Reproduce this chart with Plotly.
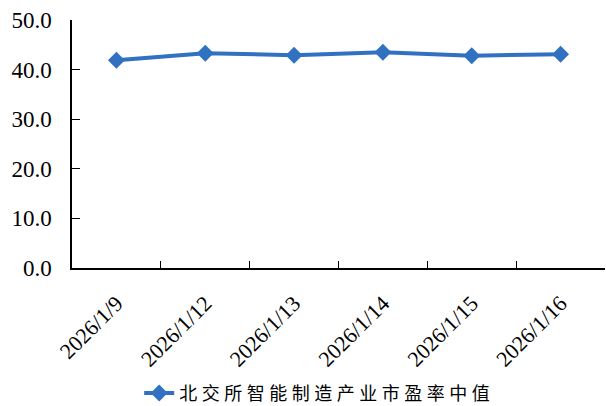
import plotly.graph_objects as go

# Trading dates and median P/E of BSE smart-manufacturing stocks
dates = ["2026/1/9", "2026/1/12", "2026/1/13", "2026/1/14", "2026/1/15", "2026/1/16"]
pe_median = [41.9, 43.3, 42.9, 43.5, 42.8, 43.1]
series_name = "北交所智能制造产业市盈率中值"

line_color = "#3171C1"
serif = "Liberation Serif"

# widen the legend text a little, the way a spaced-out CJK label reads
legend_label = "\u2005".join(series_name)

fig = go.Figure()
fig.add_trace(go.Scatter(
    x=dates,
    y=pe_median,
    mode="lines+markers",
    name=legend_label,
    line=dict(color=line_color, width=4),
    marker=dict(symbol="diamond", size=13, color=line_color),
))

fig.update_layout(
    width=606,
    height=406,
    margin=dict(l=72, r=1, t=20, b=138, autoexpand=False),
    paper_bgcolor="white",
    plot_bgcolor="white",
    showlegend=True,
    legend=dict(
        orientation="h",
        x=0.46,
        xanchor="center",
        y=-0.505,
        yanchor="middle",
        font=dict(family="Noto Sans CJK SC", size=18, color="#000000"),
    ),
    xaxis=dict(
        type="category",
        range=[-0.5, 5.5],
        showline=True,
        linecolor="#000000",
        linewidth=1.5,
        ticks="inside",
        ticklen=7,
        tickcolor="#000000",
        tickson="boundaries",
        tickangle=-45,
        ticklabelstandoff=12,
        tickfont=dict(family=serif, size=22, color="#000000"),
        showgrid=False,
        zeroline=False,
    ),
    yaxis=dict(
        range=[0, 50],
        dtick=10,
        tickformat=".1f",
        showline=True,
        linecolor="#000000",
        linewidth=1.5,
        ticks="inside",
        ticklen=8,
        tickcolor="#000000",
        ticklabelstandoff=14,
        tickfont=dict(family=serif, size=23, color="#000000"),
        showgrid=False,
        zeroline=False,
    ),
)

fig.write_html("out.html")
